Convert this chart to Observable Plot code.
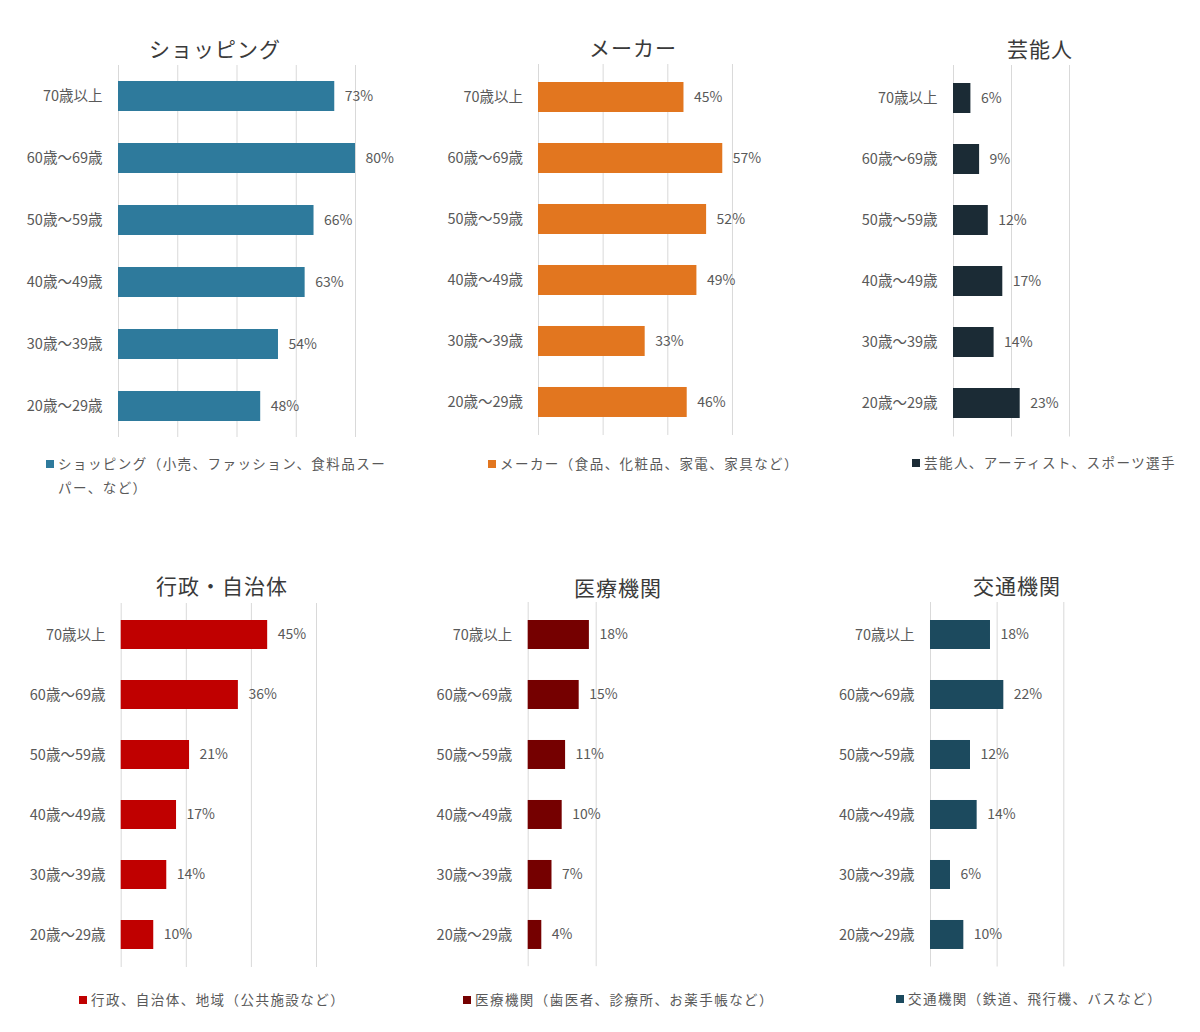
<!DOCTYPE html>
<html>
<head>
<meta charset="utf-8">
<script src="https://cdn.jsdelivr.net/npm/d3@7"></script>
<script src="https://cdn.jsdelivr.net/npm/@observablehq/plot@0.6"></script>
<style>
  html, body { margin: 0; padding: 0; background: #fff; }
  #root { position: relative; width: 1200px; height: 1032px; overflow: hidden; background: #fff;
          font-family: "Noto Sans CJK JP", "Noto Sans", sans-serif; }
  .title { position: absolute; width: 300px; text-align: center; font-size: 21px; letter-spacing: 1px;
           color: #3a3a3a; line-height: 28px; white-space: nowrap; }
  .legend { position: absolute; font-size: 13.5px; letter-spacing: 1.45px; color: #595959; line-height: 24px; white-space: nowrap; }
  .legend .sq { display: inline-block; width: 8px; height: 8px; margin-right: 4px; vertical-align: 1px; }
  .legend .l2 { padding-left: 12px; }
  .panel { position: absolute; }
</style>
</head>
<body>
<div id="root"></div>
<script>
const ages = ["70歳以上", "60歳～69歳", "50歳～59歳", "40歳～49歳", "30歳～39歳", "20歳～29歳"];

const shopping = [73, 80, 66, 63, 54, 48];
const maker    = [45, 57, 52, 49, 33, 46];
const geinou   = [6, 9, 12, 17, 14, 23];
const gyousei  = [45, 36, 21, 17, 14, 10];
const iryou    = [18, 15, 11, 10, 7, 4];
const koutsu   = [18, 22, 12, 14, 6, 10];

const titles = ["ショッピング", "メーカー", "芸能人", "行政・自治体", "医療機関", "交通機関"];
const legendTexts = [
  ["ショッピング（小売、ファッション、食料品スー", "パー、など）"],
  ["メーカー（食品、化粧品、家電、家具など）"],
  ["芸能人、アーティスト、スポーツ選手"],
  ["行政、自治体、地域（公共施設など）"],
  ["医療機関（歯医者、診療所、お薬手帳など）"],
  ["交通機関（鉄道、飛行機、バスなど）"]
];
const colors = ["#2E7A9C", "#E2761F", "#1B2B35", "#C00000", "#750000", "#1C4A5E"];
const series = [shopping, maker, geinou, gyousei, iryou, koutsu];
const gridTicks = [
  [0, 20, 40, 60, 80],
  [0, 20, 40, 60],
  [0, 20, 40],
  [0, 20, 40, 60],
  [0, 20],
  [0, 20, 40]
];

// layout (pixel geometry only)
const layout = [
  {left: 0,   x0: 118,   ppu: 2.9625, top: 65,    bottom: 437,   tcx: 215,  tcy: 48,  lx: 46,  ly: 463, labelPad: 16},
  {left: 420, x0: 538,   ppu: 3.233,  top: 63.5,  bottom: 434.5, tcx: 633,  tcy: 47,  lx: 488, ly: 463, labelPad: 15.5},
  {left: 820, x0: 953,   ppu: 2.9,    top: 64.5,  bottom: 436,   tcx: 1040, tcy: 48,  lx: 912, ly: 462, labelPad: 16},
  {left: 0,   x0: 120.7, ppu: 3.255,  top: 602.7, bottom: 966.7, tcx: 222,  tcy: 585, lx: 79,  ly: 999, labelPad: 15.7},
  {left: 420, x0: 527.7, ppu: 3.4,    top: 602.4, bottom: 966.6, tcx: 618,  tcy: 587, lx: 463, ly: 999, labelPad: 16},
  {left: 820, x0: 930,   ppu: 3.333,  top: 601.5, bottom: 966,   tcx: 1017, tcy: 585, lx: 896, ly: 998, labelPad: 16}
];

const root = document.getElementById("root");

series.forEach((vals, i) => {
  const L = layout[i];
  const ticks = gridTicks[i];
  const max = ticks[ticks.length - 1];
  const data = ages.map((a, j) => ({age: a, v: vals[j]}));
  const marginLeft = L.x0 - L.left;
  const marginRight = 60;
  const width = marginLeft + max * L.ppu + marginRight;
  const height = L.bottom - L.top;
  const chart = Plot.plot({
    width, height,
    marginLeft, marginRight, marginTop: 0, marginBottom: 0,
    style: {fontFamily: '"Noto Sans CJK JP", "Noto Sans", sans-serif', fontSize: "14px", color: "#595959", background: "transparent", overflow: "visible"},
    x: {domain: [0, max], axis: null},
    y: {domain: ages, axis: null, label: null, paddingInner: 0.516, paddingOuter: 0.258},
    marks: [
      Plot.ruleX(ticks, {stroke: "#d9d9d9", strokeWidth: 1}),
      Plot.barX(data, {x: "v", y: "age", fill: colors[i]}),
      Plot.text(data, {x: "v", y: "age", text: d => d.v + "%", textAnchor: "start", dx: 10, fill: "#595959", fontSize: 14}),
      Plot.axisY({tickSize: 0, tickPadding: L.labelPad, fontSize: 14.5, fill: "#595959", textAnchor: "end", label: null})
    ]
  });
  const wrap = document.createElement("div");
  wrap.className = "panel";
  wrap.style.left = L.left + "px";
  wrap.style.top = L.top + "px";
  wrap.appendChild(chart);
  root.appendChild(wrap);

  const t = document.createElement("div");
  t.className = "title";
  t.textContent = titles[i];
  t.style.left = (L.tcx - 150) + "px";
  t.style.top = (L.tcy - 14) + "px";
  root.appendChild(t);

  const lg = document.createElement("div");
  lg.className = "legend";
  lg.style.left = L.lx + "px";
  lg.style.top = (L.ly - 12) + "px";
  const lines = legendTexts[i];
  const first = document.createElement("div");
  const sq = document.createElement("span");
  sq.className = "sq";
  sq.style.background = colors[i];
  first.appendChild(sq);
  first.appendChild(document.createTextNode(lines[0]));
  lg.appendChild(first);
  for (let k = 1; k < lines.length; k++) {
    const d = document.createElement("div");
    d.className = "l2";
    d.textContent = lines[k];
    lg.appendChild(d);
  }
  root.appendChild(lg);
});
</script>
</body>
</html>
